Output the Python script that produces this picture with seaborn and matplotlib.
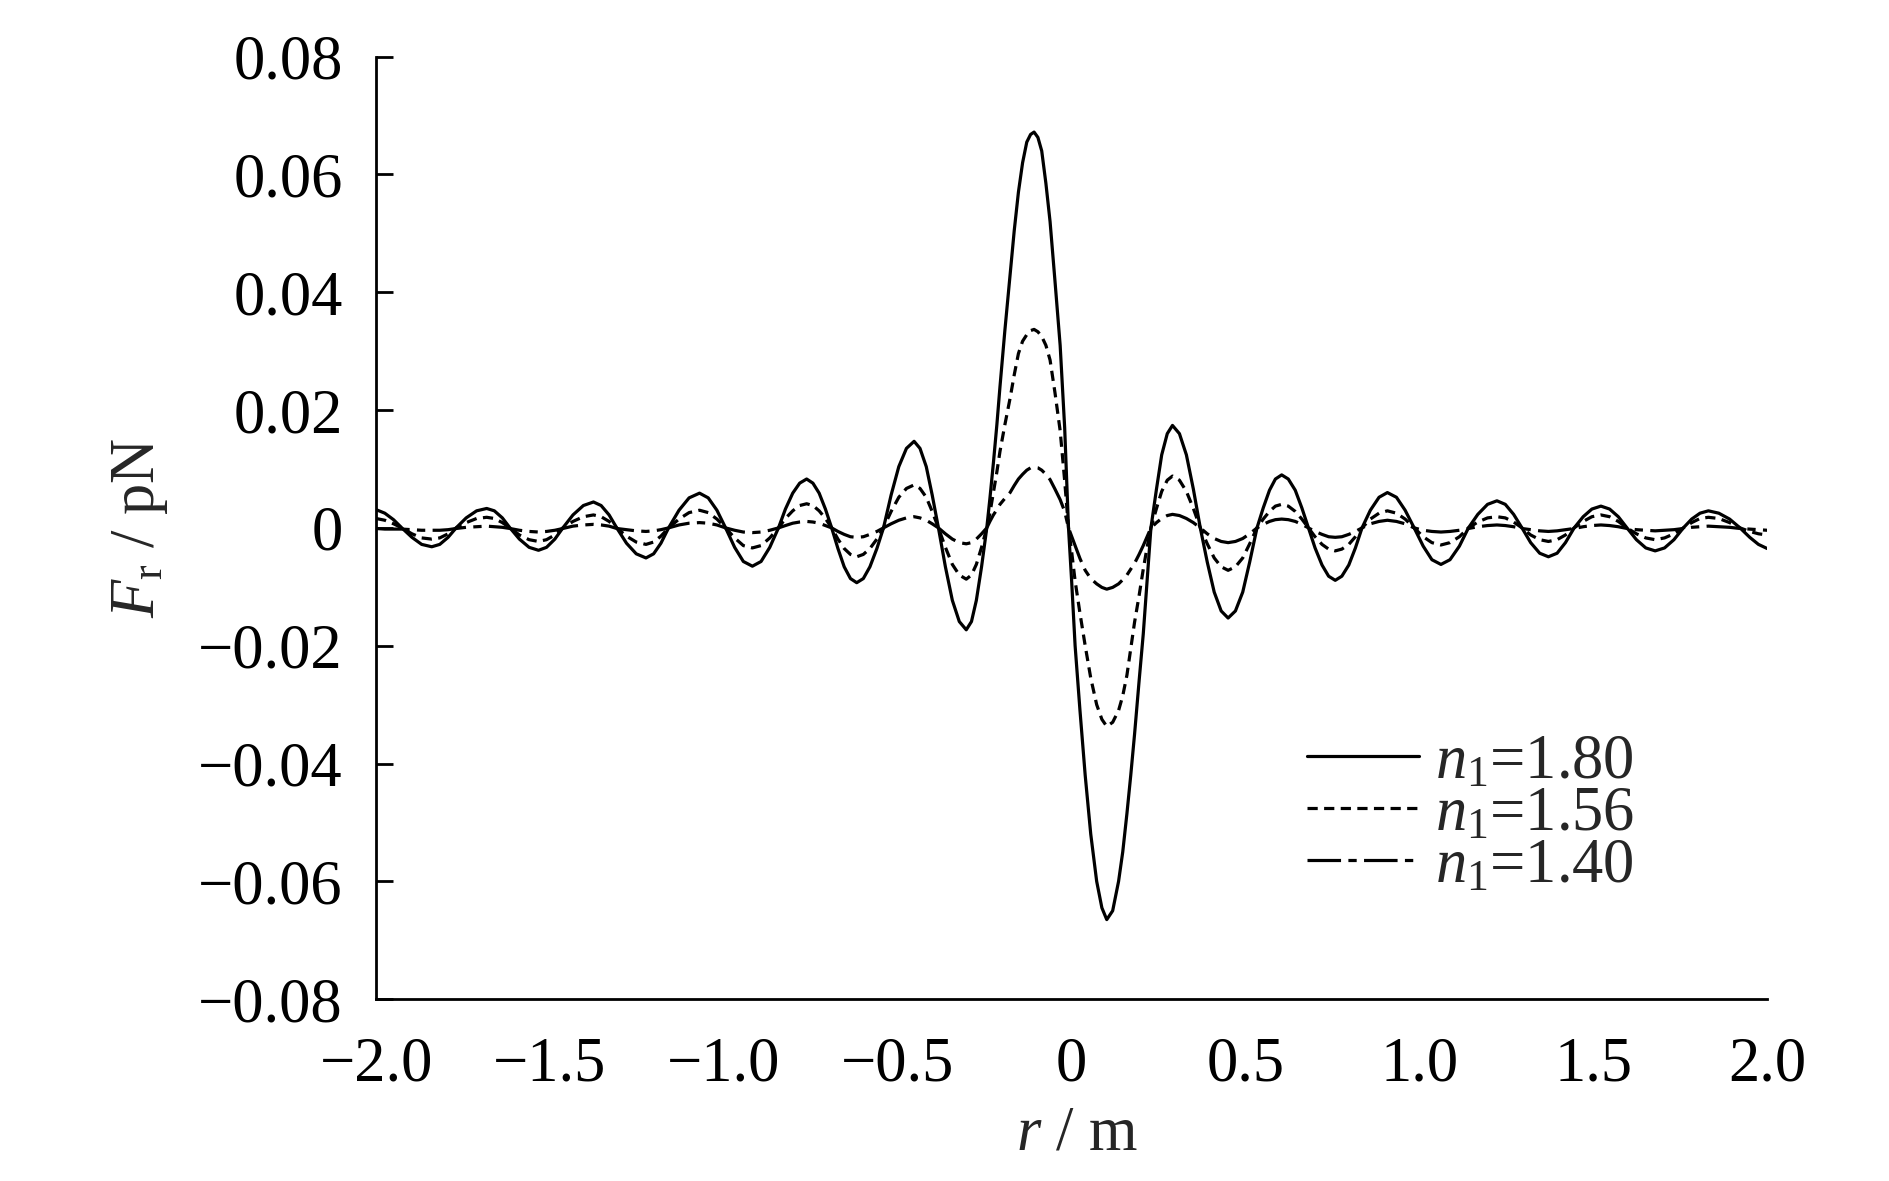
import numpy as np
import pandas as pd
import matplotlib
matplotlib.use("Agg")
import matplotlib.pyplot as plt
import seaborn as sns

# radial position r (m), shared by the three curves
r = [
    -2.000, -1.975, -1.950,
    -1.926, -1.897, -1.869, -1.840, -1.817, -1.793,
    -1.770, -1.741, -1.711, -1.682, -1.660, -1.637,
    -1.615, -1.588, -1.560, -1.533, -1.510, -1.486,
    -1.463, -1.434, -1.404, -1.375, -1.353, -1.330,
    -1.308, -1.280, -1.252, -1.224, -1.202, -1.181,
    -1.159, -1.129, -1.100, -1.070, -1.045, -1.020,
    -0.995, -0.969, -0.944, -0.918, -0.893, -0.868,
    -0.843, -0.823, -0.802, -0.782, -0.762, -0.744, -0.726, -0.708,
    -0.690, -0.672, -0.654, -0.636, -0.618, -0.599, -0.580, -0.560,
    -0.541, -0.519, -0.497, -0.475, -0.453, -0.436, -0.418, -0.401,
    -0.383, -0.363, -0.343, -0.323, -0.303, -0.288, -0.274, -0.259,
    # main positive lobe
    -0.244, -0.235, -0.225, -0.215, -0.206, -0.192, -0.177, -0.165, -0.153, -0.141,
    -0.129, -0.118, -0.108, -0.097, -0.086, -0.074, -0.062, -0.048, -0.033, -0.020,
    # main negative lobe
    -0.009, 0.000, 0.010, 0.024, 0.039, 0.055, 0.072, 0.087, 0.101,
    0.118, 0.135, 0.147, 0.159, 0.170, 0.181, 0.194, 0.206, 0.217,
    0.228, 0.244, 0.259, 0.275, 0.290, 0.310, 0.330, 0.350,
    0.370, 0.390, 0.410, 0.430, 0.450, 0.471, 0.492, 0.512,
    0.533, 0.551, 0.569, 0.586, 0.604, 0.623, 0.643, 0.662,
    0.681, 0.700, 0.720, 0.739, 0.758, 0.777, 0.797, 0.816,
    0.835, 0.859, 0.884, 0.908, 0.934, 0.959,
    0.985, 1.011, 1.036, 1.062, 1.088, 1.115,
    1.141, 1.168, 1.196, 1.223, 1.247, 1.271,
    1.295, 1.320, 1.346, 1.371, 1.396, 1.420,
    1.445, 1.471, 1.496, 1.522, 1.547, 1.572,
    1.597, 1.624, 1.651, 1.678, 1.705, 1.732,
    1.759, 1.783, 1.807, 1.831, 1.861, 1.892,
    1.922, 1.950, 1.975, 2.000,
]

# radial force F_r (pN) for n1 = 1.80
f_180 = [
    0.0031, 0.0025, 0.0014,
    0, -0.0016, -0.0028, -0.0032, -0.0028, -0.0016,
    0, 0.0017, 0.0029, 0.0033, 0.0029, 0.0017,
    0, -0.0019, -0.0033, -0.0038, -0.0033, -0.0019,
    0, 0.0022, 0.0038, 0.0044, 0.0038, 0.0022,
    0, -0.0026, -0.0044, -0.0051, -0.0044, -0.0026,
    0, 0.0030, 0.0051, 0.0059, 0.0051, 0.0030,
    0, -0.0033, -0.0057, -0.0065, -0.0057, -0.0033,
    0, 0.0032, 0.0059, 0.0076, 0.0083, 0.0076, 0.0059, 0.0032,
    0, -0.0035, -0.0066, -0.0086, -0.0093, -0.0086, -0.0066, -0.0035,
    0, 0.0056, 0.0104, 0.0135, 0.0147, 0.0135, 0.0104, 0.0056,
    0, -0.0066, -0.0123, -0.0159, -0.0173, -0.0159, -0.0123, -0.0066,
    0, 0.005, 0.011, 0.0175, 0.024, 0.0335, 0.043, 0.0505, 0.057, 0.062,
    0.0655, 0.0668, 0.0672, 0.0663, 0.064, 0.0585, 0.052, 0.042, 0.031, 0.017,
    0, -0.009, -0.020, -0.031, -0.042, -0.052, -0.060, -0.0645, -0.0665,
    -0.065, -0.060, -0.055, -0.0485, -0.042, -0.035, -0.026, -0.018, -0.009,
    0, 0.0066, 0.0124, 0.0160, 0.0174, 0.0160, 0.0124, 0.0066,
    0, -0.0058, -0.0109, -0.0141, -0.0153, -0.0141, -0.0109, -0.0058,
    0, 0.0034, 0.0064, 0.0083, 0.0090, 0.0083, 0.0064, 0.0034,
    0, -0.0034, -0.0063, -0.0082, -0.0089, -0.0082, -0.0063, -0.0034,
    0, 0.0030, 0.0052, 0.0060, 0.0052, 0.0030,
    0, -0.0031, -0.0054, -0.0062, -0.0054, -0.0031,
    0, 0.0023, 0.0040, 0.0046, 0.0040, 0.0023,
    0, -0.0025, -0.0043, -0.0049, -0.0043, -0.0025,
    0, 0.0019, 0.0032, 0.0037, 0.0032, 0.0019,
    0, -0.0020, -0.0034, -0.0039, -0.0034, -0.0020,
    0, 0.0015, 0.0025, 0.0029, 0.0025, 0.0015,
    0, -0.0016, -0.0028, -0.0035,
]

# n1 = 1.56
f_156 = [
    0.0016, 0.0013, 0.0007,
    0, -0.0010, -0.0017, -0.0019, -0.0017, -0.0010,
    0, 0.0009, 0.0016, 0.0018, 0.0016, 0.0009,
    0, -0.0012, -0.0020, -0.0023, -0.0020, -0.0012,
    0, 0.0011, 0.0019, 0.0022, 0.0019, 0.0011,
    0, -0.0014, -0.0024, -0.0028, -0.0024, -0.0014,
    0, 0.0015, 0.0026, 0.0030, 0.0026, 0.0015,
    0, -0.0017, -0.0030, -0.0034, -0.0030, -0.0017,
    0, 0.0016, 0.0029, 0.0038, 0.0041, 0.0038, 0.0029, 0.0016,
    0, -0.0019, -0.0035, -0.0045, -0.0049, -0.0045, -0.0035, -0.0019,
    0, 0.0028, 0.0052, 0.0067, 0.0073, 0.0067, 0.0052, 0.0028,
    0, -0.0033, -0.0062, -0.0080, -0.0087, -0.0080, -0.0062, -0.0033,
    0, 0.0025, 0.006, 0.0095, 0.013, 0.0175, 0.022, 0.026, 0.0296, 0.0317,
    0.0328, 0.0335, 0.0337, 0.0333, 0.0325, 0.031, 0.0285, 0.023, 0.0165, 0.008,
    0, -0.004, -0.009, -0.0145, -0.020, -0.0255, -0.030, -0.0325, -0.0337,
    -0.0330, -0.031, -0.0285, -0.025, -0.0205, -0.016, -0.0115, -0.007, -0.0033,
    0, 0.0033, 0.0062, 0.0081, 0.0088, 0.0081, 0.0062, 0.0033,
    0, -0.0027, -0.0051, -0.0066, -0.0072, -0.0066, -0.0051, -0.0027,
    0, 0.0015, 0.0028, 0.0037, 0.0040, 0.0037, 0.0028, 0.0015,
    0, -0.0015, -0.0028, -0.0036, -0.0039, -0.0036, -0.0028, -0.0015,
    0, 0.0015, 0.0025, 0.0029, 0.0025, 0.0015,
    0, -0.0015, -0.0025, -0.0029, -0.0025, -0.0015,
    0, 0.0010, 0.0017, 0.0019, 0.0017, 0.0010,
    0, -0.0012, -0.0020, -0.0023, -0.0020, -0.0012,
    0, 0.0011, 0.0019, 0.0022, 0.0019, 0.0011,
    0, -0.0010, -0.0017, -0.0020, -0.0017, -0.0010,
    0, 0.0009, 0.0016, 0.0018, 0.0016, 0.0009,
    0, -0.0006, -0.0010, -0.0012,
]

# n1 = 1.40
f_140 = [
    -0.0001, -0.0002, -0.0002,
    -0.0002, -0.0003, -0.0004, -0.0004, -0.0004, -0.0003,
    -0.0001, 0.0001, 0.0002, 0.0003, 0.0002, 0.0001,
    -0.0001, -0.0004, -0.0006, -0.0007, -0.0006, -0.0004,
    -0.0001, 0.0003, 0.0005, 0.0006, 0.0005, 0.0003,
    -0.0001, -0.0003, -0.0005, -0.0006, -0.0005, -0.0003,
    0, 0.0005, 0.0008, 0.0009, 0.0008, 0.0005,
    0, -0.0004, -0.0007, -0.0008, -0.0007, -0.0004,
    0, 0.0004, 0.0008, 0.0010, 0.0011, 0.0010, 0.0008, 0.0004,
    0, -0.0006, -0.0011, -0.0015, -0.0016, -0.0015, -0.0011, -0.0006,
    0, 0.0007, 0.0013, 0.0017, 0.0019, 0.0017, 0.0013, 0.0007,
    0, -0.0010, -0.0019, -0.0025, -0.0027, -0.0025, -0.0019, -0.0010,
    0, 0.0011, 0.0022, 0.0031, 0.0040, 0.0050, 0.0060, 0.0072, 0.0083, 0.0091,
    0.0098, 0.0102, 0.0103, 0.0102, 0.0098, 0.0091, 0.0082, 0.0066, 0.0048, 0.0028,
    0, -0.0014, -0.0030, -0.0052, -0.0072, -0.0086, -0.0095, -0.0101, -0.0104,
    -0.0101, -0.0095, -0.0088, -0.0080, -0.0070, -0.0060, -0.0045, -0.0030, -0.0015,
    0, 0.0009, 0.0016, 0.0021, 0.0023, 0.0021, 0.0016, 0.0009,
    0, -0.0010, -0.0018, -0.0023, -0.0025, -0.0023, -0.0018, -0.0010,
    0, 0.0006, 0.0011, 0.0014, 0.0015, 0.0014, 0.0011, 0.0006,
    0, -0.0006, -0.0011, -0.0015, -0.0016, -0.0015, -0.0011, -0.0006,
    0, 0.0007, 0.0011, 0.0013, 0.0011, 0.0007,
    0, -0.0004, -0.0006, -0.0007, -0.0006, -0.0004,
    -0.0001, 0.0002, 0.0004, 0.0005, 0.0004, 0.0002,
    -0.0001, -0.0003, -0.0005, -0.0006, -0.0005, -0.0003,
    -0.0001, 0.0002, 0.0004, 0.0005, 0.0004, 0.0002,
    -0.0001, -0.0003, -0.0004, -0.0005, -0.0004, -0.0003,
    -0.0001, 0.0001, 0.0002, 0.0003, 0.0002, 0.0001,
    -0.0001, -0.0002, -0.0003, -0.0004,
]

labels = [r"$n_1$=1.80", r"$n_1$=1.56", r"$n_1$=1.40"]
x_ticks = [-2.0, -1.5, -1.0, -0.5, 0, 0.5, 1.0, 1.5, 2.0]
x_ticklabels = ["\u22122.0", "\u22121.5", "\u22121.0", "\u22120.5", "0",
                "0.5", "1.0", "1.5", "2.0"]
y_ticks = [0.08, 0.06, 0.04, 0.02, 0, -0.02, -0.04, -0.06, -0.08]
y_ticklabels = ["0.08", "0.06", "0.04", "0.02", "0",
                "\u22120.02", "\u22120.04", "\u22120.06", "\u22120.08"]

assert len(r) == len(f_180) == len(f_156) == len(f_140)

df = pd.concat([
    pd.DataFrame({"r": r, "F": f, "curve": lab})
    for f, lab in zip([f_180, f_156, f_140], labels)
], ignore_index=True)

sns.set_theme(style="ticks")
plt.rcParams["font.family"] = ["Liberation Serif", "DejaVu Serif"]
plt.rcParams["mathtext.fontset"] = "custom"
plt.rcParams["mathtext.rm"] = "Liberation Serif"
plt.rcParams["mathtext.it"] = "Liberation Serif:italic"
plt.rcParams["lines.linewidth"] = 2.3
plt.rcParams["lines.solid_joinstyle"] = "round"
plt.rcParams["lines.dash_joinstyle"] = "round"
plt.rcParams["axes.linewidth"] = 2.0

FS = 45
LW = 2.3

fig = plt.figure(figsize=(18.9, 11.81), dpi=100)
ax = fig.add_axes([0.199, 0.154, 0.736, 0.798])

dash_map = {
    labels[0]: "",
    labels[1]: (3.2, 2.0),
    labels[2]: (10.5, 2.3, 2.6, 2.3),
}
sns.lineplot(data=df, x="r", y="F", style="curve", style_order=labels,
             dashes=dash_map, color="black", linewidth=LW,
             estimator=None, sort=False, ax=ax)

ax.set_xlim(-2.0, 2.0)
ax.set_ylim(-0.08, 0.08)
ax.set_xticks(x_ticks)
ax.set_xticklabels(x_ticklabels, fontsize=FS)
ax.set_yticks(y_ticks)
ax.set_yticklabels(y_ticklabels, fontsize=FS)
ax.tick_params(axis="y", direction="in", length=12, width=2.0, pad=24,
               colors="black")
ax.tick_params(axis="x", length=0, pad=27, colors="black")
for side in ["top", "right"]:
    ax.spines[side].set_visible(False)
for side in ["left", "bottom"]:
    ax.spines[side].set_color("black")

ax.set_xlabel(r"$r$ / m", fontsize=FS)
ax.set_ylabel(r"$F_{\mathrm{r}}$ / pN", fontsize=FS)
ax.xaxis.set_label_coords(0.504, -0.113)
ax.yaxis.set_label_coords(-0.148, 0.5)

handles, labs = ax.get_legend_handles_labels()
leg = ax.legend(handles, labs, frameon=False, loc="upper left",
                bbox_to_anchor=(0.669, 0.281), fontsize=FS,
                handlelength=1.8, handletextpad=0.25, labelspacing=-0.1,
                borderpad=0, borderaxespad=0)
for line in leg.get_lines():
    line.set_linewidth(LW)

fig.savefig("out.png", dpi=100, facecolor="white")
